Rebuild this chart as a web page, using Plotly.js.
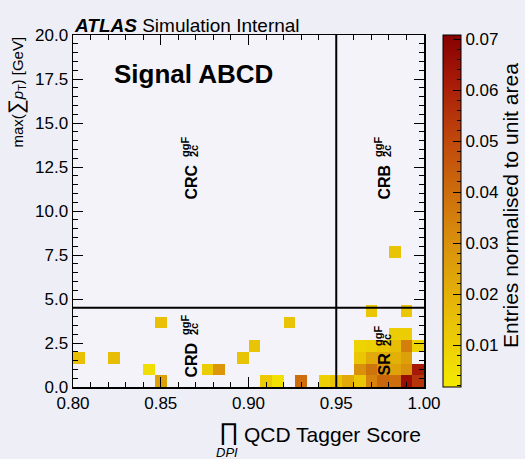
<!DOCTYPE html>
<html>
<head>
<meta charset="utf-8">
<script src="https://cdn.plot.ly/plotly-3.0.1.min.js"></script>
<style>html,body{margin:0;padding:0;background:#eeeff6;}</style>
</head>
<body>
<div id="chart" style="width:525px;height:459px;"></div>
<script>
// ---- data ----
// bin centres of filled cells, x = prod DPI QCD tagger score, y = max(sum pT) [GeV]
const cellX = [
  0.8500, 0.9100, 0.9167, 0.9300, 0.9433, 0.9500, 0.9567, 0.9633, 0.9700, 0.9767, 0.9833, 0.9900, 0.9967,
  0.8433, 0.8767, 0.8833, 0.9633, 0.9700, 0.9767, 0.9833, 0.9900, 0.9967,
  0.8033, 0.8233, 0.8967, 0.9633, 0.9700, 0.9767, 0.9833, 0.9900,
  0.9033, 0.9633, 0.9700, 0.9767, 0.9833, 0.9900, 0.9967,
  0.9833, 0.9900,
  0.8500, 0.9233,
  0.9700, 0.9900,
  0.9833
];
const cellY = [
  0.333, 0.333, 0.333, 0.333, 0.333, 0.333, 0.333, 0.333, 0.333, 0.333, 0.333, 0.333, 0.333,
  1.0, 1.0, 1.0, 1.0, 1.0, 1.0, 1.0, 1.0, 1.0,
  1.667, 1.667, 1.667, 1.667, 1.667, 1.667, 1.667, 1.667,
  2.333, 2.333, 2.333, 2.333, 2.333, 2.333, 2.333,
  3.0, 3.0,
  3.667, 3.667,
  4.333, 4.333,
  7.667
];
const cellZ = [
  0.025, 0.012, 0.005, 0.040, 0.010, 0.014, 0.022, 0.013, 0.034, 0.042, 0.040, 0.066, 0.055,
  0.006, 0.011, 0.028, 0.030, 0.038, 0.030, 0.024, 0.030, 0.062,
  0.015, 0.016, 0.014, 0.013, 0.022, 0.022, 0.020, 0.025,
  0.014, 0.009, 0.010, 0.013, 0.016, 0.035, 0.009,
  0.011, 0.011,
  0.015, 0.014,
  0.013, 0.013,
  0.014
];
const xTickVals = [0.80, 0.85, 0.90, 0.95, 1.00];
const yTickVals = [0.0, 2.5, 5.0, 7.5, 10.0, 12.5, 15.0, 17.5, 20.0];
const zTickVals = [0.01, 0.02, 0.03, 0.04, 0.05, 0.06, 0.07];
const cutX = 0.95;
const cutY = 4.5;

// ---- binning (30 x 30 bins over 0.8-1.0 and 0-20) ----
const nBins = 30, xMin = 0.8, xMax = 1.0, yMin = 0, yMax = 20;
const dx = (xMax - xMin) / nBins, dy = (yMax - yMin) / nBins;
const z = [];
for (let r = 0; r < nBins; r++) { z.push(new Array(nBins).fill(null)); }
for (let i = 0; i < cellZ.length; i++) {
  const c = Math.floor((cellX[i] - xMin) / dx);
  const r = Math.floor((cellY[i] - yMin) / dy);
  z[r][c] = cellZ[i];
}

const FONT = 'Liberation Sans, Arial, Helvetica, sans-serif';
const cscale = [
  [0, 'rgb(244,234,0)'], [0.2, 'rgb(232,190,6)'], [0.45, 'rgb(214,135,12)'],
  [0.7, 'rgb(192,72,12)'], [0.86, 'rgb(168,28,8)'], [1, 'rgb(134,0,0)']
];
const zmin = 0.0018, zmax = 0.0708;

const cbBase = {
  thickness: 18, thicknessmode: 'pixels', len: 352, lenmode: 'pixels',
  x: 1.054, xanchor: 'left', xpad: 0, y: 1, yanchor: 'top', ypad: 0
};

const traces = [
  {
    type: 'heatmap', z: z, x0: xMin + dx / 2, dx: dx, y0: yMin + dy / 2, dy: dy,
    colorscale: cscale, zmin: zmin, zmax: zmax, hoverinfo: 'skip',
    colorbar: Object.assign({}, cbBase, {
      outlinewidth: 1, outlinecolor: 'black',
      tickmode: 'array', tickvals: zTickVals, ticktext: zTickVals.map(v => v.toFixed(2)),
      ticks: 'inside', ticklen: 8, tickwidth: 1, tickcolor: 'black',
      tickfont: {family: FONT, size: 17, color: 'black'}
    })
  },
  {
    type: 'heatmap', z: z, x0: xMin + dx / 2, dx: dx, y0: yMin + dy / 2, dy: dy,
    colorscale: [[0, 'rgba(0,0,0,0)'], [1, 'rgba(0,0,0,0)']], zmin: zmin, zmax: zmax,
    opacity: 0, hoverinfo: 'skip',
    colorbar: Object.assign({}, cbBase, {
      outlinewidth: 0, tickmode: 'linear', tick0: 0, dtick: 0.002,
      ticks: 'inside', ticklen: 4, tickwidth: 1, tickcolor: 'black', showticklabels: false
    })
  }
];

function px2x(p) { return (p - 73) / 351; }
function px2y(p) { return (387 - p) / 352; }

const annotations = [
  {xref: 'paper', yref: 'paper', x: px2x(72), y: px2y(25), xanchor: 'left', yanchor: 'middle', showarrow: false,
   text: '<b><i>ATLAS</i></b> Simulation Internal', font: {family: FONT, size: 19, color: 'black'}},
  {xref: 'paper', yref: 'paper', x: px2x(193), y: px2y(74), xanchor: 'center', yanchor: 'middle', showarrow: false,
   text: '<b>Signal ABCD</b>', font: {family: FONT, size: 26, color: 'black'}},
  // y axis title
  {xref: 'paper', yref: 'paper', x: px2x(15), y: 1, xanchor: 'center', yanchor: 'top', showarrow: false, textangle: -90,
   text: 'max(<span style="font-size:21px">∑</span><i>p</i><sub>T</sub>) [GeV]', font: {family: FONT, size: 15, color: 'black'}},
  // x axis title
  {xref: 'paper', yref: 'paper', x: px2x(229), y: px2y(431), xanchor: 'center', yanchor: 'middle', showarrow: false,
   text: '∏', font: {family: FONT, size: 24, color: 'black'}},
  {xref: 'paper', yref: 'paper', x: px2x(227), y: px2y(452), xanchor: 'center', yanchor: 'middle', showarrow: false,
   text: '<i>DPI</i>', font: {family: FONT, size: 13, color: 'black'}},
  {xref: 'paper', yref: 'paper', x: px2x(423), y: px2y(435), xanchor: 'right', yanchor: 'middle', showarrow: false,
   text: 'QCD Tagger Score', font: {family: FONT, size: 21, color: 'black'}},
  // colour bar title
  {xref: 'paper', yref: 'paper', x: px2x(510), y: px2y(206), xanchor: 'center', yanchor: 'middle', showarrow: false, textangle: -90,
   text: 'Entries normalised to unit area', font: {family: FONT, size: 21, color: 'black'}}
];

// region labels: [main text, centre x px, bottom y px]
const regions = [['CRC', 191, 202], ['CRB', 384, 202], ['CRD', 191, 380], ['SR', 384, 378]];
regions.forEach(function (r) {
  const name = r[0], X = r[1], B = r[2];
  const len = name === 'SR' ? 22 : 35;
  annotations.push({xref: 'paper', yref: 'paper', x: px2x(X), y: px2y(B), xanchor: 'center', yanchor: 'bottom',
    showarrow: false, textangle: -90, text: '<b>' + name + '</b>', font: {family: FONT, size: 16, color: 'black'}});
  annotations.push({xref: 'paper', yref: 'paper', x: px2x(X - 6), y: px2y(B - len - 8), xanchor: 'center', yanchor: 'bottom',
    showarrow: false, textangle: -90, text: '<b>ggF</b>', font: {family: FONT, size: 11, color: 'black'}});
  annotations.push({xref: 'paper', yref: 'paper', x: px2x(X + 3), y: px2y(B - len - 8), xanchor: 'center', yanchor: 'bottom',
    showarrow: false, textangle: -90, text: '<b>2c</b>', font: {family: FONT, size: 11, color: 'black'}});
});

const axisCommon = {
  showline: true, linecolor: 'black', linewidth: 1.5, mirror: 'ticks',
  ticks: 'inside', ticklen: 10, tickwidth: 1, tickcolor: 'black',
  showgrid: false, zeroline: false,
  tickfont: {family: FONT, size: 17, color: 'black'}
};

const layout = {
  width: 525, height: 459,
  margin: {l: 73, r: 101, t: 35, b: 72, pad: 0, autoexpand: false},
  paper_bgcolor: '#eeeff6', plot_bgcolor: '#f3f3f9',
  font: {family: FONT, color: 'black'},
  showlegend: false,
  xaxis: Object.assign({}, axisCommon, {
    range: [xMin, xMax], tickmode: 'array', tickvals: xTickVals, ticktext: xTickVals.map(v => v.toFixed(2)),
    minor: {dtick: 0.01, tick0: 0.8, ticks: 'inside', ticklen: 5, tickcolor: 'black', tickwidth: 1}
  }),
  yaxis: Object.assign({}, axisCommon, {
    range: [yMin, yMax], tickmode: 'array', tickvals: yTickVals, ticktext: yTickVals.map(v => v.toFixed(1)),
    minor: {dtick: 0.5, tick0: 0, ticks: 'inside', ticklen: 5, tickcolor: 'black', tickwidth: 1}
  }),
  shapes: [
    {type: 'line', xref: 'x', yref: 'y', x0: cutX, x1: cutX, y0: yMin, y1: yMax, line: {color: 'black', width: 2}},
    {type: 'line', xref: 'x', yref: 'y', x0: xMin, x1: xMax, y0: cutY, y1: cutY, line: {color: 'black', width: 2}}
  ],
  annotations: annotations
};

Plotly.newPlot('chart', traces, layout, {displayModeBar: false, staticPlot: true});
</script>
</body>
</html>
